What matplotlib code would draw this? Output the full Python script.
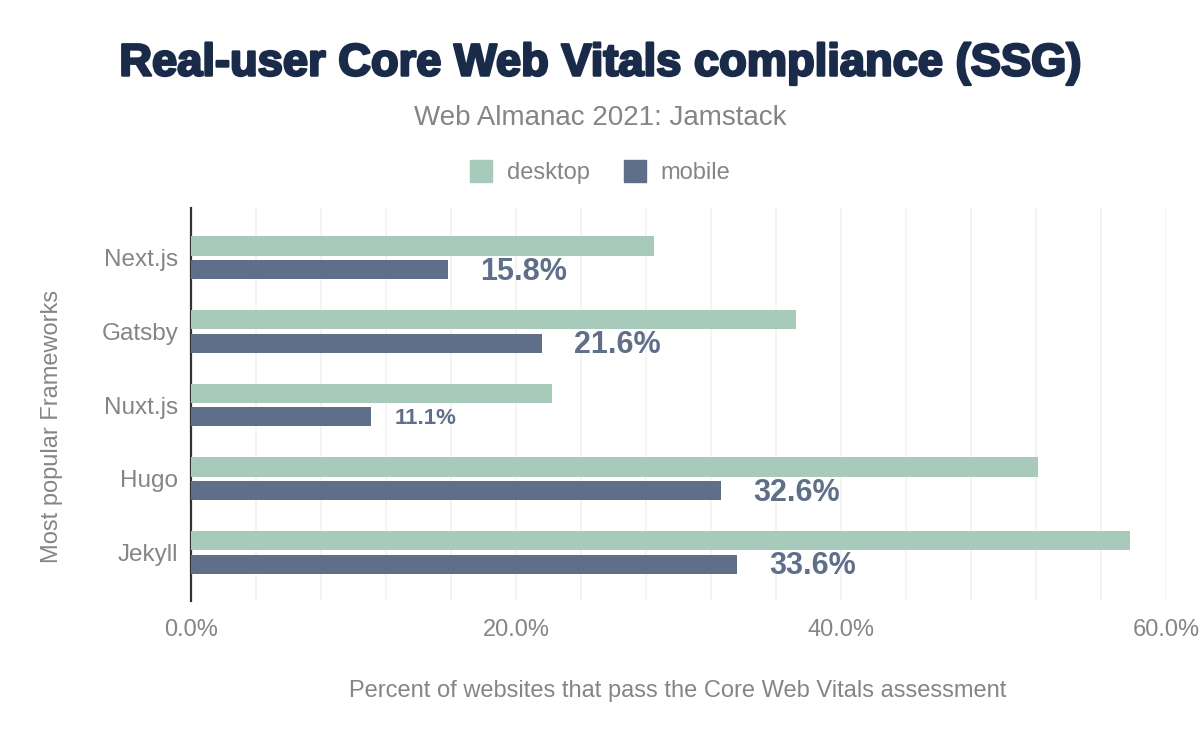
"""Real-user Core Web Vitals compliance (SSG) bar chart"""
import matplotlib
matplotlib.use('Agg')
import matplotlib.pyplot as plt
import matplotlib.patheffects as pe
from matplotlib.lines import Line2D
from matplotlib.ticker import MultipleLocator, FuncFormatter
import numpy as np

plt.rcParams['font.family'] = ['Liberation Sans', 'DejaVu Sans']

frameworks = ['Next.js', 'Gatsby', 'Nuxt.js', 'Hugo', 'Jekyll']
desktop = [28.5, 37.2, 22.2, 52.1, 57.8]
mobile = [15.8, 21.6, 11.1, 32.6, 33.6]
x_ticks = [0, 20, 40, 60]

desktop_color = '#a8cabb'
mobile_color = '#5f6f8a'
gray = '#858585'

fig = plt.figure(figsize=(12, 7.42), dpi=100)
ax = fig.add_axes([191 / 1200, 1 - 601 / 742, 975 / 1200, 393 / 742])

y = np.arange(len(frameworks))
h = 0.26
ax.barh(y - 0.16, desktop, height=h, color=desktop_color, zorder=3)
ax.barh(y + 0.16, mobile, height=h, color=mobile_color, zorder=3)

# value labels for mobile bars, small one gets a smaller font
for yi, v in zip(y, mobile):
    size = 16 if v < 12 else 22
    ax.annotate(f'{v:.1f}%', xy=(v, yi + 0.16), xytext=(size * 1.05, -1.5),
                textcoords='offset points', va='center', ha='left',
                fontsize=size, fontweight='bold', color=mobile_color, zorder=2.5)

ax.set_xlim(0, 60)
ax.set_ylim(4.66, -0.676)
ax.set_yticks(y)
ax.set_yticklabels(frameworks)
ax.set_xticks(x_ticks)
ax.xaxis.set_major_formatter(FuncFormatter(lambda v, p: f'{v:.1f}%'))
ax.xaxis.set_minor_locator(MultipleLocator(4))
ax.grid(axis='x', which='both', color='#f2f2f2', linewidth=1.2, zorder=0)
ax.set_axisbelow(True)
ax.tick_params(axis='both', which='both', length=0, labelsize=17, labelcolor=gray)
ax.tick_params(axis='y', labelsize=17.5)
ax.tick_params(axis='x', pad=13)
ax.tick_params(axis='y', pad=9)
for s in ['top', 'right', 'bottom']:
    ax.spines[s].set_visible(False)
ax.spines['left'].set_color('#333333')
ax.spines['left'].set_linewidth(1.6)

fig.text(0.5, 1 - 64 / 742, 'Real-user Core Web Vitals compliance (SSG)', ha='center',
         va='center', fontsize=32.6, fontweight='bold', color='#1a2b4a',
         path_effects=[pe.withStroke(linewidth=1.8, foreground='#1a2b4a')])
fig.text(0.5, 1 - 118 / 742, 'Web Almanac 2021: Jamstack', ha='center', va='center',
         fontsize=20, color=gray)
fig.text(52 / 1200, 1 - 426 / 742, 'Most popular Frameworks', rotation=90, ha='center',
         va='center', fontsize=17, color=gray)
fig.text(678 / 1200, 1 - 691 / 742, 'Percent of websites that pass the Core Web Vitals assessment',
         ha='center', va='center', fontsize=17, color=gray)

handles = [Line2D([], [], marker='s', linestyle='', markersize=16, color=desktop_color),
           Line2D([], [], marker='s', linestyle='', markersize=16, color=mobile_color)]
leg = fig.legend(handles, ['desktop', 'mobile'], loc='center', bbox_to_anchor=(0.5, 1 - 173 / 742),
                 ncol=2, frameon=False, fontsize=17, handlelength=1.0, handletextpad=0.6,
                 columnspacing=1.4)
for t in leg.get_texts():
    t.set_color(gray)

fig.savefig('out.png', dpi=100, facecolor='white')
